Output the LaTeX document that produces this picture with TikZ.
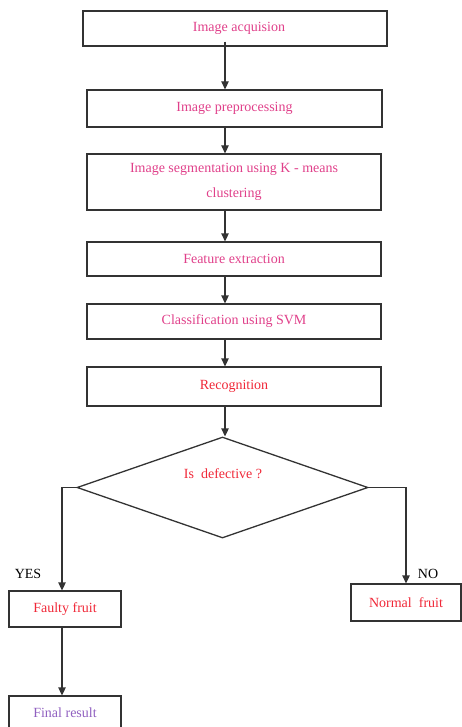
\documentclass[tikz,border=0pt]{standalone}
\usepackage{fontspec}
\setmainfont{Liberation Serif}
\usetikzlibrary{shapes.geometric,arrows.meta}
\definecolor{pinktxt}{HTML}{E0408A}
\definecolor{redtxt}{HTML}{F02838}
\definecolor{purptxt}{HTML}{9060C0}
\definecolor{linec}{HTML}{333333}
\tikzset{
  pbox/.style={draw=linec, line width=1.3pt, rectangle, inner sep=0pt, font=\fontsize{14}{27}\selectfont, align=center},
  conn/.style={draw=linec, line width=1.3pt, -{Triangle[length=8pt,width=7.5pt]}},
  lbl/.style={inner sep=0pt, font=\fontsize{14}{15}\selectfont, text=black}
}
\begin{document}
\begin{tikzpicture}[x=1pt,y=-1pt]
\useasboundingbox (0,0) rectangle (461,727);
\node[pbox, minimum width=304, minimum height=35, text=pinktxt] (b1) at (235,28.5) {\hspace*{8pt}Image acquision};
\node[pbox, minimum width=295, minimum height=37, text=pinktxt] (b2) at (234.5,108.5) {Image preprocessing};
\node[pbox, minimum width=294, minimum height=56, text=pinktxt] (b3) at (234,182) {\raisebox{-2pt}{Image segmentation using K - means}\\clustering};
\node[pbox, minimum width=294, minimum height=34, text=pinktxt] (b4) at (234,259) {Feature extraction};
\node[pbox, minimum width=294, minimum height=35, text=pinktxt] (b5) at (234,321.5) {Classification using SVM};
\node[pbox, minimum width=294, minimum height=39, text=redtxt] (b6) at (234,386.5) {Recognition};
\node[draw=linec, line width=1.3pt, diamond, inner sep=0pt, minimum width=291, minimum height=101] (d) at (222.5,487.5) {};
\node[inner sep=0pt, font=\fontsize{14}{15}\selectfont, text=redtxt] (dt) at (223,474) {Is\ \ defective ?};
\node[pbox, minimum width=112, minimum height=36, text=redtxt] (ff) at (65,609) {Faulty fruit};
\node[pbox, minimum width=110, minimum height=37, text=redtxt] (nf) at (406,602.5) {Normal\ \ fruit};
\node[pbox, minimum width=112, minimum height=34, text=purptxt] (fr) at (65,713) {Final result};
\node[lbl] (yes) at (28,574) {YES};
\node[lbl] (no) at (428,574) {NO};
\coordinate (ax) at (225,0);
\draw[conn] ([yshift=5]b1.south -| ax) -- (b2.north -| ax);
\draw[conn] (b2.south -| ax) -- (b3.north -| ax);
\draw[conn] (b3.south -| ax) -- (b4.north -| ax);
\draw[conn] (b4.south -| ax) -- (b5.north -| ax);
\draw[conn] (b5.south -| ax) -- (b6.north -| ax);
\draw[conn] (b6.south -| ax) -- (d.north -| ax);
\draw[conn] (d.west) -| ([xshift=-3]ff.north);
\draw[conn] (d.east) -| (nf.north);
\draw[conn] ([xshift=-3]ff.south) -- ([xshift=-3]fr.north);
\end{tikzpicture}
\end{document}
